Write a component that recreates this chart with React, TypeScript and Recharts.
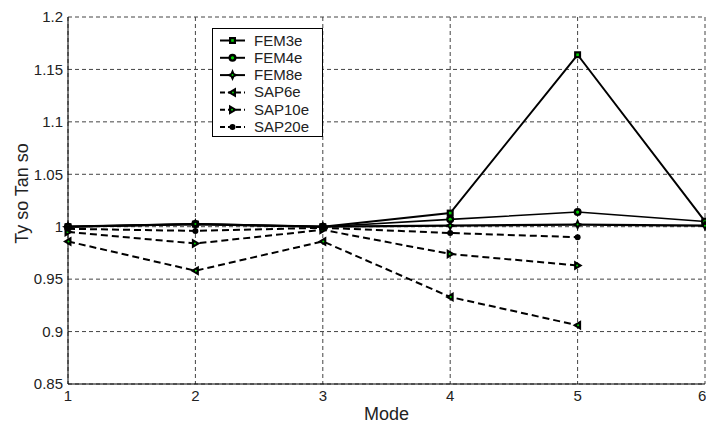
import React from 'react';
import { LineChart, Line, XAxis, YAxis, CartesianGrid, Legend } from 'recharts';

const modes = [1, 2, 3, 4, 5, 6];
const fem3e = [1.0, 1.0025, 1.0, 1.013, 1.164, 1.005];
const fem4e = [1.0, 1.0025, 1.0, 1.007, 1.014, 1.005];
const fem8e = [1.0, 1.0025, 1.0, 1.001, 1.002, 1.001];
const sap6e = [0.986, 0.958, 0.986, 0.933, 0.906, null];
const sap10e = [0.995, 0.984, 0.997, 0.974, 0.963, null];
const sap20e = [0.998, 0.996, 0.999, 0.994, 0.99, null];
const yTicks = [0.85, 0.9, 0.95, 1.0, 1.05, 1.1, 1.15, 1.2];
const yTickLabels = ['0.85', '0.9', '0.95', '1', '1.05', '1.1', '1.15', '1.2'];
const xTickLabels = ['1', '2', '3', '4', '5', '6'];

const data = modes.map((m, i) => ({
  mode: m,
  FEM3e: fem3e[i],
  FEM4e: fem4e[i],
  FEM8e: fem8e[i],
  SAP6e: sap6e[i],
  SAP10e: sap10e[i],
  SAP20e: sap20e[i],
}));

const GREEN = '#00d000';
const FONT = '"Liberation Sans", Arial, sans-serif';
const TXT = '#222';

type Shape = 'square' | 'circle' | 'star' | 'left' | 'right' | 'dot';

const Marker = ({ shape, cx, cy }: { shape: Shape; cx: number; cy: number }) => {
  switch (shape) {
    case 'square':
      return (
        <g>
          <rect x={cx - 3.5} y={cy - 3.5} width={7} height={7} fill="#000" />
          <rect x={cx - 1.3} y={cy - 1.3} width={2.6} height={2.6} fill={GREEN} />
        </g>
      );
    case 'circle':
      return (
        <g>
          <circle cx={cx} cy={cy} r={4} fill="#000" />
          <circle cx={cx} cy={cy} r={1.6} fill={GREEN} />
        </g>
      );
    case 'star':
      return (
        <g>
          <path
            d={`M${cx} ${cy - 6} L${cx + 1.8} ${cy - 1.8} L${cx + 6} ${cy} L${cx + 1.8} ${cy + 1.8} L${cx} ${cy + 6} L${cx - 1.8} ${cy + 1.8} L${cx - 6} ${cy} L${cx - 1.8} ${cy - 1.8} Z`}
            fill="#000"
          />
          <circle cx={cx} cy={cy} r={1} fill={GREEN} />
        </g>
      );
    case 'left':
      return (
        <g>
          <path d={`M${cx - 5} ${cy} L${cx + 3.5} ${cy - 5} L${cx + 3.5} ${cy + 5} Z`} fill="#000" />
          <circle cx={cx + 0.5} cy={cy} r={1} fill={GREEN} />
        </g>
      );
    case 'right':
      return (
        <g>
          <path d={`M${cx + 5} ${cy} L${cx - 3.5} ${cy - 5} L${cx - 3.5} ${cy + 5} Z`} fill="#000" />
          <circle cx={cx - 0.5} cy={cy} r={1} fill={GREEN} />
        </g>
      );
    default:
      return <circle cx={cx} cy={cy} r={3} fill="#000" />;
  }
};

const series: { key: string; shape: Shape; dash?: string; width: number }[] = [
  { key: 'FEM3e', shape: 'square', width: 2 },
  { key: 'FEM4e', shape: 'circle', width: 1.6 },
  { key: 'FEM8e', shape: 'star', width: 2.2 },
  { key: 'SAP6e', shape: 'left', dash: '7 4', width: 2 },
  { key: 'SAP10e', shape: 'right', dash: '7 4', width: 2 },
  { key: 'SAP20e', shape: 'dot', dash: '7 4', width: 2 },
];

const makeDot = (shape: Shape) => (props: any) => {
  const { cx, cy, index, value } = props;
  if (cx == null || cy == null || value == null || isNaN(cx) || isNaN(cy)) {
    return <g key={`e-${index}`} />;
  }
  return (
    <g key={`d-${index}`}>
      <Marker shape={shape} cx={cx} cy={cy} />
    </g>
  );
};

const LegendBox = () => (
  <svg width={112} height={110} style={{ display: 'block' }}>
    <rect x={0.5} y={0.5} width={110} height={108} fill="#fff" stroke="#000" strokeWidth={1} />
    {series.map((s, i) => {
      const y = 12.5 + 17.3 * i;
      return (
        <g key={s.key}>
          <line x1={8} x2={33} y1={y} y2={y} stroke="#000" strokeWidth={2} strokeDasharray={s.dash ? '5 3' : undefined} />
          <Marker shape={s.shape} cx={20.5} cy={y} />
          <text x={42} y={y + 5} fontSize={15} fontFamily={FONT} fill={TXT}>
            {s.key}
          </text>
        </g>
      );
    })}
  </svg>
);

const YLabel = (props: any) => {
  const vb = props.viewBox || { x: 0, y: 0, width: 0, height: 0 };
  const x = vb.x + 22;
  const y = vb.y + vb.height / 2 - 7;
  return (
    <text x={x} y={y} transform={`rotate(-90 ${x} ${y})`} textAnchor="middle" dominantBaseline="central" fontSize={18} fontFamily={FONT} fill={TXT}>
      Ty so Tan so
    </text>
  );
};

const XLabel = (props: any) => {
  const vb = props.viewBox || { x: 0, y: 0, width: 0, height: 0 };
  const x = vb.x + vb.width / 2;
  const y = vb.y + 30;
  return (
    <text x={x} y={y} textAnchor="middle" dominantBaseline="central" fontSize={18} fontFamily={FONT} fill={TXT}>
      Mode
    </text>
  );
};

export default function App() {
  return (
    <div style={{ position: 'absolute', left: 0, top: 0, width: 706, height: 423, background: '#fff' }}>
      <LineChart width={706} height={423} data={data} margin={{ top: 17, right: 1, bottom: 0, left: 0 }}>
        <CartesianGrid stroke="#444" strokeDasharray="4 3" strokeWidth={1} />
        <XAxis
          dataKey="mode"
          type="number"
          domain={[1, 6]}
          ticks={modes}
          tickFormatter={(v: number) => xTickLabels[modes.indexOf(v)] ?? String(v)}
          height={39}
          tickLine={false}
          axisLine={{ stroke: '#000', strokeWidth: 1 }}
          tick={{ fontSize: 15, fontFamily: FONT, fill: TXT }}
          tickSize={4}
          tickMargin={2}
          label={<XLabel />}
        />
        <YAxis
          type="number"
          domain={[0.85, 1.2]}
          ticks={yTicks}
          tickFormatter={(v: number) => {
            const idx = yTicks.findIndex((t) => Math.abs(t - v) < 1e-9);
            return idx >= 0 ? yTickLabels[idx] : String(v);
          }}
          width={68}
          tickLine={false}
          axisLine={{ stroke: '#000', strokeWidth: 1 }}
          tick={{ fontSize: 15, fontFamily: FONT, fill: TXT }}
          tickSize={0}
          tickMargin={5}
          label={<YLabel />}
        />
        <Legend
          layout="vertical"
          align="center"
          verticalAlign="middle"
          content={() => <LegendBox />}
          wrapperStyle={{ position: 'absolute', left: 212, top: 28, width: 112, height: 110 }}
        />
        {series.map((s) => (
          <Line
            key={s.key}
            dataKey={s.key}
            type="linear"
            stroke="#000"
            strokeWidth={s.width}
            strokeDasharray={s.dash}
            dot={makeDot(s.shape)}
            activeDot={false}
            connectNulls={false}
            isAnimationActive={false}
          />
        ))}
      </LineChart>
    </div>
  );
}
